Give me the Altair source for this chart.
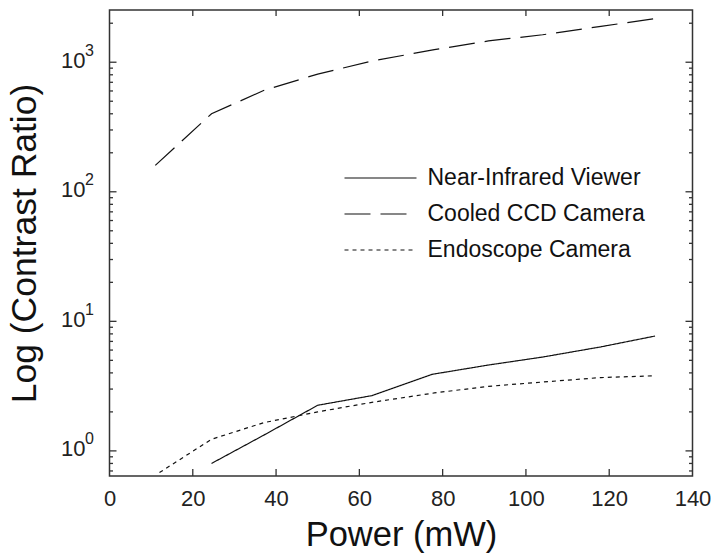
import altair as alt
import pandas as pd

# Series: contrast ratio versus excitation power for three detectors
detectors = ["Near-Infrared Viewer", "Cooled CCD Camera", "Endoscope Camera"]

power_nir = [24.5, 37, 50, 63, 77.5, 91, 104, 118, 131]
contrast_nir = [0.80, 1.32, 2.25, 2.67, 3.9, 4.6, 5.3, 6.35, 7.7]

power_ccd = [11, 24.5, 37, 50, 63, 78, 91, 104, 118, 131]
contrast_ccd = [160, 400, 605, 810, 1020, 1250, 1460, 1630, 1890, 2170]

power_endo = [12, 24.5, 37, 50, 63, 78, 91, 104, 118, 131]
contrast_endo = [0.68, 1.23, 1.65, 2.0, 2.37, 2.8, 3.15, 3.4, 3.68, 3.8]

# Axis ticks
x_labels = [0, 20, 40, 60, 80, 100, 120, 140]
x_inner_ticks = [20, 40, 60, 80, 100, 120]
y_major = [1, 10, 100, 1000]
y_exponents = ["0", "1", "2", "3"]
y_minor = [0.7, 0.8, 0.9, 2, 3, 4, 5, 6, 7, 8, 9,
           20, 30, 40, 50, 60, 70, 80, 90,
           200, 300, 400, 500, 600, 700, 800, 900, 2000]

rows = []
for name, xs, ys in zip(detectors,
                        [power_nir, power_ccd, power_endo],
                        [contrast_nir, contrast_ccd, contrast_endo]):
    for x, y in zip(xs, ys):
        rows.append({"Power": x, "Contrast": y, "Detector": name})
df = pd.DataFrame(rows)

W, H = 583, 466
FONT = "Liberation Sans"
INK = "#111111"
FRAME = "#333333"
LABEL = "#222222"

x_scale = alt.Scale(domain=[0, 140], nice=False, zero=False)
y_scale = alt.Scale(type="log", domain=[0.64, 2530], nice=False)

x_axis = alt.Axis(
    values=x_labels, title="Power (mW)", grid=False, domain=False,
    tickSize=0, labelPadding=12, labelFontSize=22, labelFont=FONT,
    labelColor=LABEL, labelFlush=False, labelOverlap=False,
    titleFont=FONT, titleFontSize=34.5, titleFontWeight="normal",
    titleColor=INK, titleBaseline="alphabetic", titleY=69,
)
# Decade labels: the mantissa "10" comes from the axis, the exponent is a text layer
y_axis = alt.Axis(
    values=y_major, title="Log (Contrast Ratio)", grid=False,
    domain=False, tickSize=0, labelPadding=24.5, labelFontSize=22,
    labelFont=FONT, labelColor=LABEL, labelFlush=False,
    labelOverlap=False, labelOffset=-2, labelExpr="'10'",
    titleFont=FONT, titleFontSize=35.5, titleFontWeight="normal",
    titleColor=INK, titleBaseline="alphabetic",
    titleX=-74.5, titleY=H / 2,
)

lines = alt.Chart(df).mark_line(color=INK, strokeWidth=1.2).encode(
    x=alt.X("Power:Q", scale=x_scale, axis=x_axis),
    y=alt.Y("Contrast:Q", scale=y_scale, axis=y_axis),
    strokeDash=alt.StrokeDash(
        "Detector:N",
        scale=alt.Scale(domain=detectors, range=[[1, 0], [26, 10], [4, 4]]),
        legend=alt.Legend(
            title=None, orient="none", legendX=234, legendY=157, padding=0,
            symbolType="stroke", symbolSize=5184, symbolStrokeWidth=1.2,
            symbolStrokeColor=INK, symbolOffset=0, clipHeight=22,
            rowPadding=13, labelOffset=10, labelFontSize=23, labelFont=FONT,
            labelColor=INK, labelLimit=400,
        ),
    ),
)

# Exponents of the decade labels
exp_df = pd.DataFrame({"Contrast": y_major, "Exponent": y_exponents})
exponents = alt.Chart(exp_df).mark_text(
    align="left", baseline="alphabetic", fontSize=16, font=FONT,
    color=LABEL, dy=-6.5,
).encode(
    y=alt.Y("Contrast:Q", scale=y_scale, axis=y_axis),
    x=alt.value(-24.5),
    text="Exponent:N",
)

# Inward tick marks on all four sides of the frame
xt = pd.DataFrame({"Power": x_inner_ticks})
x_bottom = alt.Chart(xt).mark_rule(color=FRAME, strokeWidth=1.3).encode(
    x=alt.X("Power:Q", scale=x_scale, axis=x_axis),
    y=alt.value(H), y2=alt.value(H - 7),
)
x_top = alt.Chart(xt).mark_rule(color=FRAME, strokeWidth=1.3).encode(
    x=alt.X("Power:Q", scale=x_scale, axis=x_axis),
    y=alt.value(0), y2=alt.value(6),
)

ymaj = pd.DataFrame({"Contrast": y_major})
ymin = pd.DataFrame({"Contrast": y_minor})


def y_ticks(data, length):
    left = alt.Chart(data).mark_rule(color=FRAME, strokeWidth=1.3).encode(
        y=alt.Y("Contrast:Q", scale=y_scale, axis=y_axis),
        x=alt.value(0), x2=alt.value(length),
    )
    right = alt.Chart(data).mark_rule(color=FRAME, strokeWidth=1.3).encode(
        y=alt.Y("Contrast:Q", scale=y_scale, axis=y_axis),
        x=alt.value(W), x2=alt.value(W - length),
    )
    return [left, right]


layers = [lines, exponents, x_bottom, x_top] + y_ticks(ymaj, 7) + y_ticks(ymin, 3.5)

chart = alt.layer(*layers).properties(
    width=W, height=H,
    autosize=alt.AutoSizeParams(type="none"),
    padding={"left": 109.5, "top": 10, "right": 20.5, "bottom": 78},
    background="white",
).configure_view(
    stroke=FRAME, strokeWidth=1.5,
)

chart.save("out.html", embed_options={"renderer": "svg", "actions": False})
